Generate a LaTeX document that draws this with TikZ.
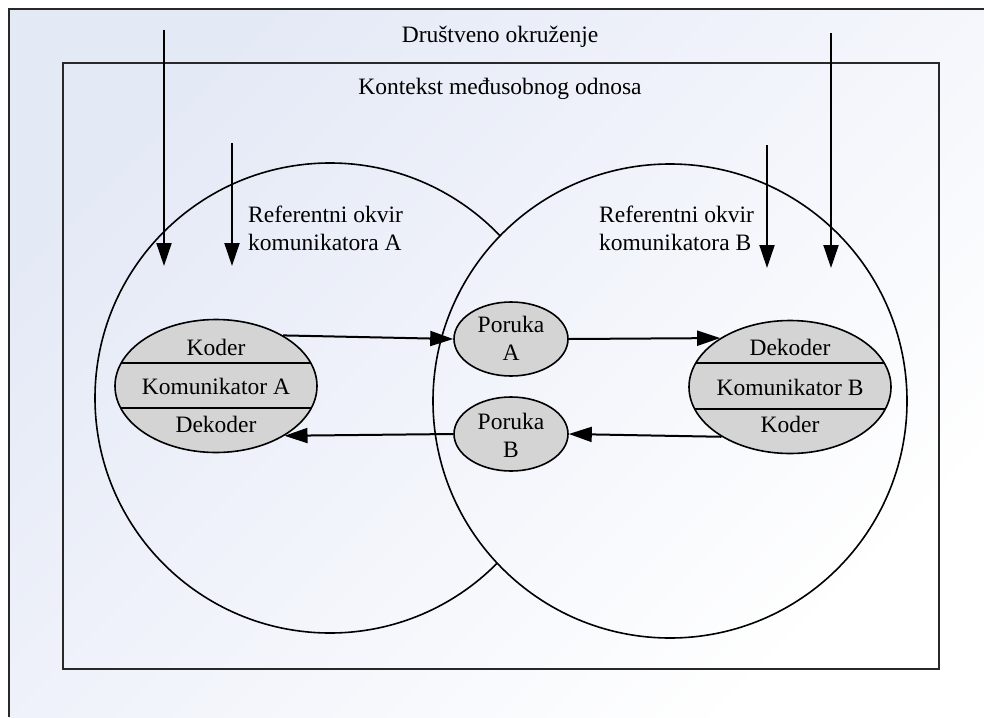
\documentclass[tikz,border=0pt]{standalone}
\usepackage{fontspec}
\setmainfont{Liberation Serif}
\usetikzlibrary{arrows.meta,shapes.geometric}
\definecolor{framecol}{RGB}{40,40,40}
\definecolor{bgtint}{RGB}{228,233,246}
\definecolor{cellfill}{RGB}{212,212,212}
\tikzset{
  txt/.style={font=\fontsize{23.5}{28}\selectfont, inner sep=0pt},
  frameline/.style={draw=framecol, line width=2pt},
  refcircle/.style={circle, draw=black, line width=1.6pt, inner sep=0pt},
  commell/.style={ellipse, draw=black, line width=1.6pt, fill=cellfill, inner sep=0pt,
    minimum width=202pt, minimum height=133pt},
  msgell/.style={ellipse, draw=black, line width=1.6pt, fill=cellfill, inner sep=0pt,
    minimum width=114pt, minimum height=74pt},
  arr/.style={-{Triangle[width=15pt,length=23pt]}, line width=2pt},
  bgshade/.style={top color=bgtint, bottom color=white, shading angle=45},
}
\begin{document}
\begin{tikzpicture}[x=1pt,y=-1pt]
\useasboundingbox (0,0) rectangle (984,717);

% background of the social environment
\shade[bgshade] (9,9) rectangle (984,717);
\draw[frameline] (984,9) -- (9,9) -- (9,717);

% relationship context
\draw[frameline] (63,63) rectangle (939,669);

\node[txt, anchor=base] (society) at (500,42) {Društveno okruženje};
\node[txt, anchor=base] (context) at (500,94) {Kontekst međusobnog odnosa};

% frames of reference: B is opaque and covers the inner arc of A
\node[refcircle, minimum size=470pt] (frameA) at (330,398) {};
\begin{scope}
  \clip (670,401) circle [radius=237];
  \shade[bgshade] (9,9) rectangle (984,717);
\end{scope}
\node[refcircle, minimum size=474pt] (frameB) at (670,401) {};

\node[txt, anchor=base west, align=left] (frameAlbl) at (248,250) {Referentni okvir\\komunikatora A};
\node[txt, anchor=base west, align=left] (frameBlbl) at (599,250) {Referentni okvir\\komunikatora B};

% communicators
\node[commell, path picture={
    \draw[line width=1.6pt] ([yshift=23pt]path picture bounding box.west) -- ([yshift=23pt]path picture bounding box.east);
    \draw[line width=1.6pt] ([yshift=-22pt]path picture bounding box.west) -- ([yshift=-22pt]path picture bounding box.east);
  }] (commA) at (216,386) {};
\node[txt, anchor=base] (commAenc) at (216,355) {Koder};
\node[txt, anchor=base] (commAname) at (216,394) {Komunikator A};
\node[txt, anchor=base] (commAdec) at (216,432) {Dekoder};

\node[commell, path picture={
    \draw[line width=1.6pt] ([yshift=24pt]path picture bounding box.west) -- ([yshift=24pt]path picture bounding box.east);
    \draw[line width=1.6pt] ([yshift=-22pt]path picture bounding box.west) -- ([yshift=-22pt]path picture bounding box.east);
  }] (commB) at (790,387) {};
\node[txt, anchor=base] (commBdec) at (790,355) {Dekoder};
\node[txt, anchor=base] (commBname) at (790,395) {Komunikator B};
\node[txt, anchor=base] (commBenc) at (790,432) {Koder};

% messages
\node[msgell] (msgA) at (511,339) {};
\node[txt, anchor=base, align=center] (msgAlbl) at (511,360) {Poruka\\A};
\node[msgell] (msgB) at (511,434) {};
\node[txt, anchor=base, align=center] (msgBlbl) at (511,457) {Poruka\\B};

% outside influences
\coordinate (envA) at (164,30);   \coordinate (envAend) at (164,266);
\coordinate (ctxA) at (232,143);  \coordinate (ctxAend) at (232,266);
\coordinate (ctxB) at (767,145);  \coordinate (ctxBend) at (767,268);
\coordinate (envB) at (831,33);   \coordinate (envBend) at (831,268);
\draw[arr] (envA) -- (envAend);
\draw[arr] (ctxA) -- (ctxAend);
\draw[arr] (ctxB) -- (ctxBend);
\draw[arr] (envB) -- (envBend);

% message flow
\draw[arr] (commA.37) -- (msgA.west);
\draw[arr] (msgA.east) -- (commB.145);
\draw[arr] (commB.216) -- (msgB.east);
\draw[arr] (msgB.west) -- (commA.-36);
\end{tikzpicture}
\end{document}
